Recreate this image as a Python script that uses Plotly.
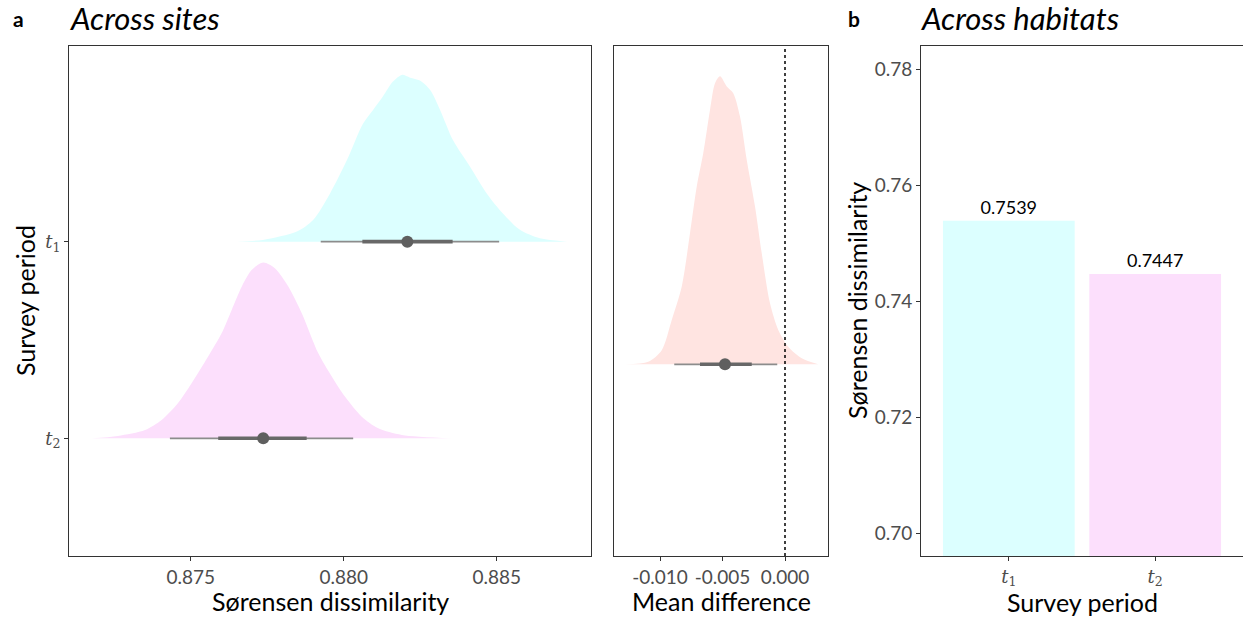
import plotly.graph_objects as go

# ---------------- data ----------------
# Panel a (left): posterior densities of Sørensen dissimilarity by survey period
t1_x = [0.87651, 0.87736, 0.87847, 0.87900, 0.87955, 0.88011, 0.88063, 0.88096, 0.88128, 0.88161,
        0.88190, 0.88217, 0.88249, 0.88282, 0.88315, 0.88357, 0.88413, 0.88468, 0.88521, 0.88576,
        0.88641, 0.88730]
t1_h = [0.0, 0.009, 0.051, 0.110, 0.244, 0.416, 0.600, 0.670, 0.738, 0.814,
        0.848, 0.834, 0.819, 0.772, 0.670, 0.517, 0.381, 0.244, 0.142, 0.060,
        0.017, 0.0]
t2_x = [0.87176, 0.87262, 0.87351, 0.87405, 0.87458, 0.87503, 0.87557, 0.87601, 0.87634, 0.87667,
        0.87699, 0.87737, 0.87775, 0.87819, 0.87863, 0.87917, 0.87961, 0.88004, 0.88059, 0.88113,
        0.88190, 0.88353]
t2_h = [0.0, 0.012, 0.042, 0.093, 0.178, 0.280, 0.416, 0.534, 0.653, 0.772,
        0.856, 0.894, 0.865, 0.772, 0.636, 0.432, 0.314, 0.212, 0.110, 0.051,
        0.017, 0.0]
# point + intervals (median, 66%, 95%)
t1_point = 0.88208
t1_66 = [0.88061, 0.88356]
t1_95 = [0.87925, 0.88508]
t2_point = 0.87737
t2_66 = [0.87590, 0.87879]
t2_95 = [0.87432, 0.88031]

# Panel a (middle): mean difference density
d_x = [-0.01280, -0.01094, -0.00986, -0.00906, -0.00826, -0.00760, -0.00706, -0.00654, -0.00600,
       -0.00560, -0.00520, -0.00466, -0.00414, -0.00360, -0.00306, -0.00240, -0.00186, -0.00120,
       -0.00054, 0.00026, 0.00134, 0.00266]
d_h = [0.0, 0.009, 0.049, 0.153, 0.269, 0.453, 0.615, 0.730, 0.880,
       0.972, 0.996, 0.961, 0.938, 0.857, 0.707, 0.546, 0.384, 0.211,
       0.119, 0.061, 0.021, 0.0]
d_point = -0.00480
d_66 = [-0.00680, -0.00266]
d_95 = [-0.00886, -0.00062]

# Panel b: across habitats
periods = ["t1", "t2"]
period_labels = ["<i>t</i><sub>1</sub>", "<i>t</i><sub>2</sub>"]
habitat_values = [0.7539, 0.7447]

# ---------------- style ----------------
W, H = 1243, 617
FONT = "Lato"
C_T1 = "#DCFFFF"
C_T2 = "#FCDFFC"
C_D = "#FFE4E1"
C_THIN = "#8C8C8C"
C_THICK = "#686868"
C_PT = "#5F5F5F"
AX = "#333333"
TICKC = "#4D4D4D"


def px(x):
    return x / W


def py(y):
    return 1 - y / H


fig = go.Figure()


def ridge(xs, hs, base, color, xa, ya):
    fig.add_trace(go.Scatter(
        x=xs, y=[base + h for h in hs], mode="lines", fill="toself",
        fillcolor=color, line=dict(width=0, shape="spline", smoothing=0.8),
        xaxis=xa, yaxis=ya, hoverinfo="skip", showlegend=False))


def interval(point, i66, i95, base, xa, ya):
    fig.add_trace(go.Scatter(x=i95, y=[base, base], mode="lines",
                             line=dict(color=C_THIN, width=1.8),
                             xaxis=xa, yaxis=ya, showlegend=False, hoverinfo="skip"))
    fig.add_trace(go.Scatter(x=i66, y=[base, base], mode="lines",
                             line=dict(color=C_THICK, width=3.6),
                             xaxis=xa, yaxis=ya, showlegend=False, hoverinfo="skip"))
    fig.add_trace(go.Scatter(x=[point], y=[base], mode="markers",
                             marker=dict(color=C_PT, size=12, line=dict(width=0)),
                             xaxis=xa, yaxis=ya, showlegend=False))


# left panel: t1 at y=2, t2 at y=1
ridge(t1_x, t1_h, 2, C_T1, "x", "y")
ridge(t2_x, t2_h, 1, C_T2, "x", "y")
interval(t1_point, t1_66, t1_95, 2, "x", "y")
interval(t2_point, t2_66, t2_95, 1, "x", "y")

# middle panel
ridge(d_x, d_h, 0, C_D, "x2", "y2")
interval(d_point, d_66, d_95, 0, "x2", "y2")

# panel b bars
fig.add_trace(go.Bar(
    x=[0, 1], y=habitat_values, width=0.9, marker=dict(color=[C_T1, C_T2], line=dict(width=0)),
    text=[f"{v:.4f}" for v in habitat_values], textposition="outside",
    textfont=dict(family=FONT, size=18, color="black"),
    xaxis="x3", yaxis="y3", showlegend=False))

ydom = [py(556), py(46)]
axis_common = dict(showline=True, linecolor=AX, linewidth=1, mirror=True, showgrid=False,
                   zeroline=False, ticks="outside", ticklen=4, tickcolor=AX, tickwidth=1,
                   tickfont=dict(family=FONT, size=19, color=TICKC))
math_font = dict(family="DejaVu Serif", size=18, color=TICKC)

fig.update_layout(
    width=W, height=H, margin=dict(l=0, r=0, t=0, b=0),
    paper_bgcolor="white", plot_bgcolor="white",
    font=dict(family=FONT, color="black"),
    showlegend=False,
    xaxis=dict(domain=[px(69), px(591)], range=[0.871023, 0.888082], anchor="y",
               tickvals=[0.875, 0.880, 0.885], tickformat=".3f", **axis_common),
    yaxis=dict(domain=ydom, range=[0.4013, 2.995], anchor="x",
               tickvals=[2, 1], ticktext=period_labels,
               **{**axis_common, "tickfont": math_font}),
    xaxis2=dict(domain=[px(614), px(828)], range=[-0.01368, 0.00344], anchor="y2",
                tickvals=[-0.010, -0.005, 0.0], ticktext=["-0.010", "-0.005", "0.000"],
                **axis_common),
    yaxis2=dict(domain=ydom, range=[-0.663, 1.101], anchor="x2",
                **{**axis_common, "ticks": "", "showticklabels": False}),
    xaxis3=dict(domain=[px(921), 1.0], range=[-0.6, 1.6], anchor="y3",
                tickvals=[0, 1], ticktext=period_labels,
                **{**axis_common, "tickfont": math_font}),
    yaxis3=dict(domain=ydom, range=[0.69609, 0.78402], anchor="x3",
                tickvals=[0.70, 0.72, 0.74, 0.76, 0.78], tickformat=".2f", **axis_common),
)

# dotted zero line in middle panel
fig.add_shape(type="line", xref="x2", yref="y2 domain", x0=0, x1=0, y0=0, y1=1,
              line=dict(color="black", width=1.5, dash="dot"))

ann = []
# panel letters and titles
ann.append(dict(text="<b>a</b>", x=px(11), y=py(18), xanchor="left", yanchor="middle",
                font=dict(family=FONT, size=21, color="black")))
ann.append(dict(text="<i>Across sites</i>", x=px(68), y=py(18), xanchor="left", yanchor="middle",
                font=dict(family=FONT, size=31, color="black")))
ann.append(dict(text="<b>b</b>", x=px(846), y=py(18), xanchor="left", yanchor="middle",
                font=dict(family=FONT, size=21, color="black")))
ann.append(dict(text="<i>Across habitats</i>", x=px(919), y=py(18), xanchor="left", yanchor="middle",
                font=dict(family=FONT, size=31, color="black")))
# axis titles
TS = 25
ann.append(dict(text="Sørensen dissimilarity", x=px(330), y=py(601), xanchor="center", yanchor="middle",
                font=dict(family=FONT, size=TS, color="black")))
ann.append(dict(text="Mean difference", x=px(721), y=py(601), xanchor="center", yanchor="middle",
                font=dict(family=FONT, size=TS, color="black")))
ann.append(dict(text="Survey period", x=px(1082), y=py(602), xanchor="center", yanchor="middle",
                font=dict(family=FONT, size=TS, color="black")))
ann.append(dict(text="Survey period", x=px(25), y=py(301), xanchor="center", yanchor="middle",
                textangle=-90, font=dict(family=FONT, size=TS, color="black")))
ann.append(dict(text="Sørensen dissimilarity", x=px(857), y=py(301), xanchor="center", yanchor="middle",
                textangle=-90, font=dict(family=FONT, size=TS, color="black")))
for a in ann:
    a.update(xref="paper", yref="paper", showarrow=False)
fig.update_layout(annotations=ann)

fig.write_html("out.html")
